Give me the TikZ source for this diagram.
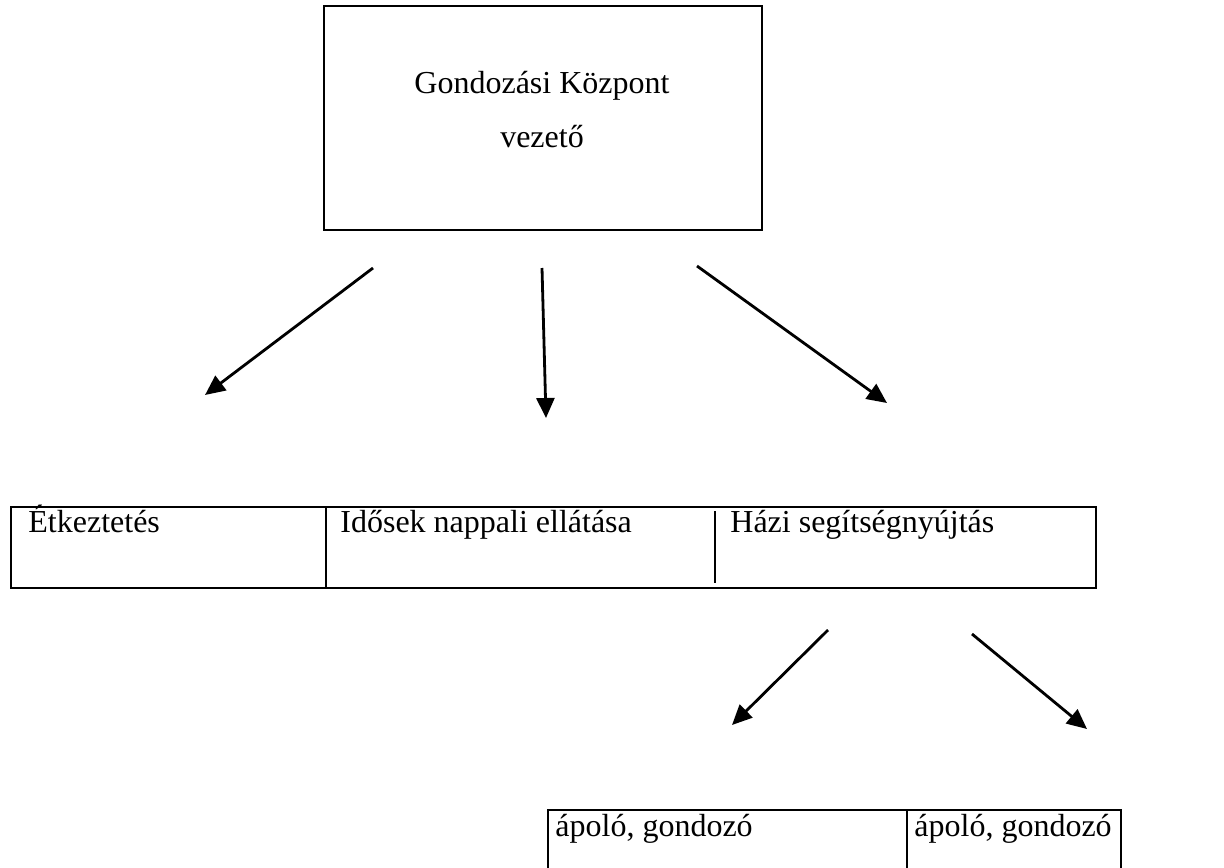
\documentclass[tikz,border=0pt]{standalone}
\usepackage{fontspec}
\setmainfont{Liberation Serif}
\usetikzlibrary{arrows.meta}

\begin{document}
\begin{tikzpicture}
[
x=0.5pt, y=-0.5pt,
every node/.style={font=\fontsize{16}{27}\selectfont, inner sep=0pt},
frame/.style={draw, line width=1pt, anchor=north west},
entry/.style={anchor=base west},
arr/.style={line width=1.4pt, -{Triangle[length=10pt,width=9pt]}}
]
\useasboundingbox (0,0) rectangle (1224,867);
\clip (0,0) rectangle (1224,867);

% vezeto doboza
\node[frame, minimum width=219pt, minimum height=112pt] (lead) at (323,5) {};
\node[anchor=base] (leadname) at (542,93) {Gondozási Központ};
\node[anchor=base] (leadrole) at (542,147) {vezető};

% elso sor: szolgaltatasok
\node[frame, minimum width=542.5pt, minimum height=40.5pt] (services) at (10,506) {};
\draw[line width=1pt] (326,506) -- (326,587);
\draw[line width=0.6pt] (715,511) -- (715,583);
\node[entry] (meals) at (28,532) {Étkeztetés};
\node[entry] (daycare) at (340,532) {Idősek nappali ellátása};
\node[entry] (homecare) at (730,532) {Házi segítségnyújtás};

% masodik sor: apolok
\node[frame, minimum width=286.5pt, minimum height=60pt] (staff) at (547,809) {};
\draw[line width=1pt] (907,809) -- (907,930);
\node[entry] (nurseA) at (555,836) {ápoló, gondozó};
\node[entry] (nurseB) at (914,836) {ápoló, gondozó};

% nyilak
\coordinate (a1) at (373,268); \coordinate (b1) at (205,395);
\coordinate (a2) at (542,268); \coordinate (b2) at (546,418);
\coordinate (a3) at (697,266); \coordinate (b3) at (887,403);
\coordinate (a4) at (828,630); \coordinate (b4) at (732,725);
\coordinate (a5) at (972,634); \coordinate (b5) at (1087,729);
\draw[arr] (a1) -- (b1);
\draw[arr] (a2) -- (b2);
\draw[arr] (a3) -- (b3);
\draw[arr] (a4) -- (b4);
\draw[arr] (a5) -- (b5);
\end{tikzpicture}
\end{document}
